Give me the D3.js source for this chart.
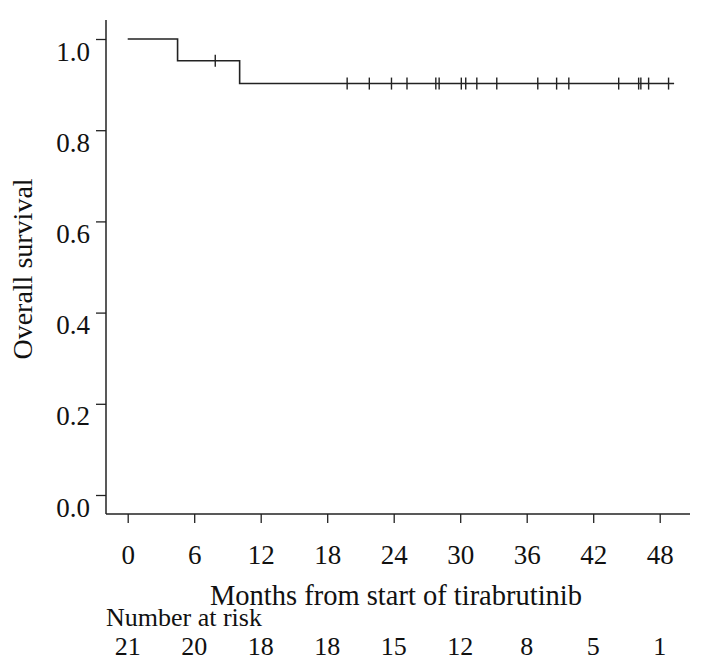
<!DOCTYPE html>
<html>
<head>
<meta charset="utf-8">
<script src="https://cdn.jsdelivr.net/npm/d3@7"></script>
<style>
  body { margin: 0; background: #fff; }
  svg text { font-family: "Liberation Serif", "Times New Roman", serif; fill: #111; }
</style>
</head>
<body>
<div id="chart"></div>
<script>
"use strict";

// data (months)
var xTicks = [0, 6, 12, 18, 24, 30, 36, 42, 48];
var yTicks = [0, 0.2, 0.4, 0.6, 0.8, 1.0];
var atRisk = [21, 20, 18, 18, 15, 12, 8, 5, 1];
var deathTimes = [4.5, 10.1];
var censorTimes = [7.9, 19.8, 21.8, 23.8, 25.2, 27.8, 28.1, 30.1, 30.5, 31.5,
    33.3, 37.0, 38.7, 39.8, 44.3, 46.1, 46.3, 47.0, 48.8];
var lastFollowUp = 49.3;
var nTotal = 21;

var fontSize = 27;

// build the Kaplan-Meier steps from the event list
var events = deathTimes.map(t => ({ t: t, death: true }))
    .concat(censorTimes.map(t => ({ t: t, death: false })))
    .sort((a, b) => a.t - b.t);

var steps = [{ t: 0, s: 1 }];
var censorPts = [];
var n = nTotal, s = 1;
events.forEach(e => {
    if (e.death) {
        s = s * (n - 1) / n;
        steps.push({ t: e.t, s: s });
    } else {
        censorPts.push({ t: e.t, s: s });
    }
    n -= 1;
});
steps.push({ t: lastFollowUp, s: s });

var svg = d3.select("#chart")
    .append("svg")
    .attr("width", 710)
    .attr("height", 672);

// scales
var x = d3.scaleLinear().domain([0, 48]).range([127.7, 659.7]);
var y = d3.scaleLinear().domain([0, 1]).range([495, 39]);

var axisX = 106, axisY = 514;

// axis frame
svg.append("line")
    .attr("x1", axisX).attr("x2", axisX)
    .attr("y1", 20).attr("y2", axisY)
    .attr("stroke", "#222").attr("stroke-width", 1.5);

svg.append("line")
    .attr("x1", axisX).attr("x2", 690)
    .attr("y1", axisY).attr("y2", axisY)
    .attr("stroke", "#222").attr("stroke-width", 1.5);

// y axis
var gy = svg.append("g")
    .attr("transform", `translate(${axisX},0)`)
    .call(d3.axisLeft(y).tickValues(yTicks).tickSize(10).tickFormat(d3.format(".1f")));
gy.select(".domain").remove();
gy.selectAll("line").attr("stroke", "#222").attr("stroke-width", 1.3);
gy.selectAll("text")
    .attr("x", -16)
    .attr("y", 21)
    .attr("dy", null)
    .style("font-size", fontSize + "px");

// x axis
var gx = svg.append("g")
    .attr("transform", `translate(0,${axisY})`)
    .call(d3.axisBottom(x).tickValues(xTicks).tickSize(9));
gx.select(".domain").remove();
gx.selectAll("line").attr("stroke", "#222").attr("stroke-width", 1.3);
gx.selectAll("text")
    .attr("y", 50)
    .attr("dy", null)
    .style("font-size", fontSize + "px");

// axis titles
svg.append("text")
    .attr("text-anchor", "middle")
    .attr("x", 396)
    .attr("y", 605)
    .style("font-size", "28.5px")
    .text("Months from start of tirabrutinib");

svg.append("text")
    .attr("text-anchor", "middle")
    .attr("transform", "translate(32,269) rotate(-90)")
    .style("font-size", "28px")
    .text("Overall survival");

// number at risk
svg.append("text")
    .attr("x", 106)
    .attr("y", 626)
    .style("font-size", "26px")
    .text("Number at risk");

svg.selectAll(".risk")
    .data(atRisk)
    .join("text")
    .attr("class", "risk")
    .attr("text-anchor", "middle")
    .attr("x", (d, i) => x(xTicks[i]))
    .attr("y", 655)
    .style("font-size", "26px")
    .text(d => d);

// survival curve
var line = d3.line()
    .curve(d3.curveStepAfter)
    .x(d => x(d.t))
    .y(d => y(d.s));

svg.append("path")
    .datum(steps)
    .attr("fill", "none")
    .attr("stroke", "#222")
    .attr("stroke-width", 1.6)
    .attr("d", line);

// censor marks
svg.selectAll(".censor")
    .data(censorPts)
    .join("line")
    .attr("class", "censor")
    .attr("x1", d => x(d.t)).attr("x2", d => x(d.t))
    .attr("y1", d => y(d.s) - 6).attr("y2", d => y(d.s) + 6)
    .attr("stroke", "#222")
    .attr("stroke-width", 1.4);
</script>
</body>
</html>
